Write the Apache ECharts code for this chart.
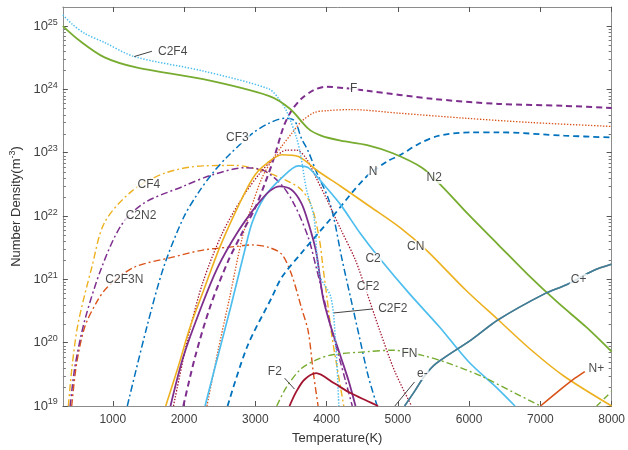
<!DOCTYPE html>
<html><head><meta charset="utf-8">
<script src="https://cdn.jsdelivr.net/npm/echarts@6/dist/echarts.min.js"></script>
<style>html,body{margin:0;padding:0;background:#fff}#c{width:628px;height:450px}</style>
</head><body><div id="c"></div>
<script>
// ---- tick labels ----
const xTicks = [1000,2000,3000,4000,5000,6000,7000,8000];
const yTicks = [1e19,1e20,1e21,1e22,1e23,1e24,1e25];

// ---- series values [Temperature K, number density m^-3] ----
const C2F4 = [[300,1.5e25],[431,1.07e25],[610,7.6e24],[885,5.5e24],[1300,3.3e24],[2268,1.95e24],[3188,1.02e24],[3330,7.1e23],[3440,4.5e23],[3580,1.7e23],[3645,8.1e22],[3714,2.75e22],[3825,9.3e21],[3897,1.2e21],[4061,5.2e20],[4130,8.7e19],[4172,1e19]];
const N2 = [[300,1.0e25],[541,5.8e24],[885,3.2e24],[1343,2.2e24],[2268,1.45e24],[3188,7.9e23],[3490,4.9e23],[3743,2.4e23],[3922,1.86e23],[4198,1.55e23],[4570,1.32e23],[4930,9.8e22],[5344,5.75e22],[5620,2.95e22],[5993,1.05e22],[6407,3.55e21],[6821,1.2e21],[7235,4.4e20],[7649,1.74e20],[8000,7.2e19]];
const F = [[1990,1e19],[2156,6.0e19],[2363,3.6e20],[2611,1.86e21],[2818,5.5e21],[2998,1.35e22],[3136,3.3e22],[3260,8.1e22],[3398,2.6e23],[3508,4.6e23],[3646,7.1e23],[3826,9.8e23],[3991,1.1e24],[4240,1.05e24],[4570,9.5e23],[5482,7.1e23],[6407,5.9e23],[7333,5.5e23],[8000,5.1e23]];
const C = [[2322,1e19],[2474,7.2e19],[2640,5.2e20],[2818,4.6e21],[2956,1.5e22],[3094,4.0e22],[3232,7.6e22],[3370,1.26e23],[3508,2.0e23],[3646,3.1e23],[3826,4.3e23],[3991,4.6e23],[4336,4.8e23],[5027,4.2e23],[5952,3.5e23],[6863,3.0e23],[8000,2.6e23]];
const N = [[2611,1e19],[2887,8.7e19],[3232,5.2e20],[3370,1.07e21],[3646,2.6e21],[4060,9.1e21],[4541,4.0e22],[4860,7.4e22],[5027,9.1e22],[5303,1.4e23],[5579,1.86e23],[6035,2.1e23],[6407,2.1e23],[7333,1.86e23],[8000,1.74e23]];
const CF3 = [[1204,1e19],[1480,1.8e20],[1714,1.55e21],[1990,9.3e21],[2197,2.3e22],[2404,4.8e22],[2611,8.7e22],[2956,2.0e23],[3188,2.9e23],[3412,3.5e23],[3550,3.2e23],[3646,1.7e23],[3743,1.05e23],[3854,5.1e22],[4020,1.95e22],[4102,9.3e21],[4212,2.2e21],[4336,5.2e20],[4474,1.05e20],[4585,2.95e19],[4710,1e19]];
const CF4 = [[377,1e19],[430,4.3e19],[513,2.0e20],[706,1.55e21],[885,7.9e21],[1272,2.5e22],[1741,4.8e22],[2266,6.2e22],[2722,6.3e22],[3094,5.2e22],[3467,3.5e22],[3646,2.6e22],[3784,1.5e22],[3895,4.6e21],[3950,1.55e21],[4005,5.2e20],[4075,1.26e20],[4158,3.5e19],[4241,1e19]];
const C2N2 = [[402,1e19],[471,4.3e19],[609,2.3e20],[845,1.55e21],[1121,7.2e21],[1438,1.6e22],[1990,2.95e22],[2404,4.5e22],[2860,5.8e22],[3122,5.2e22],[3370,3.1e22],[3550,1.5e22],[3743,4.6e21],[3854,1.55e21],[3922,7.6e20],[4059,1.8e20],[4266,2.5e19],[4361,1e19]];
const C2F3N = [[424,1e19],[493,4.7e19],[609,1.8e20],[776,4.4e20],[928,7.6e20],[1299,1.55e21],[1810,2.2e21],[2266,2.9e21],[2722,3.3e21],[2956,3.5e21],[3188,3.2e21],[3370,2.5e21],[3508,1.2e21],[3646,3.6e20],[3743,1.5e20],[3812,3.5e19],[3881,1e19]];
const CN = [[1743,1e19],[1922,4.3e19],[2087,1.8e20],[2266,6.3e20],[2501,3.2e21],[2818,1.95e22],[2998,4.5e22],[3163,6.8e22],[3370,9.3e22],[3605,8.7e22],[3881,5.1e22],[4198,2.95e22],[4613,1.4e22],[5027,6.6e21],[5400,2.9e21],[5952,6.8e20],[6407,2.3e20],[6863,7.8e19],[7333,2.95e19],[8000,1e19]];
const C2 = [[2295,1e19],[2473,6.0e19],[2653,3.6e20],[2846,2.7e21],[2956,7.9e21],[3122,1.95e22],[3370,4.0e22],[3605,6.2e22],[3743,5.8e22],[3964,3.1e22],[4198,1.5e22],[4474,5.3e21],[4751,2.1e21],[5165,5.9e20],[5579,1.8e20],[5993,5.0e19],[6407,1.85e19],[6643,1e19]];
const CF2 = [[1852,1e19],[2060,1.26e20],[2266,9.1e20],[2542,5.5e21],[2818,1.95e22],[3067,4.8e22],[3260,8.1e22],[3440,1.1e23],[3578,1.1e23],[3715,8.1e22],[3854,4.0e22],[3991,1.95e22],[4198,6.2e21],[4406,2.0e21],[4571,5.9e20],[4751,1.5e20],[4958,3.5e19],[5193,1e19]];
const C2F2 = [[1810,1e19],[1990,6.0e19],[2239,3.6e20],[2473,1.55e21],[2749,5.5e21],[3025,1.5e22],[3205,2.5e22],[3343,2.95e22],[3508,2.6e22],[3646,1.6e22],[3743,7.9e21],[3854,2.7e21],[3949,5.2e20],[4059,1.8e20],[4198,6.0e19],[4309,2.5e19],[4406,1e19]];
const F2 = [[3480,1e19],[3577,1.7e19],[3688,2.6e19],[3854,3.3e19],[4102,2.3e19],[4336,1.6e19],[4571,1.2e19],[4723,1e19]];
const FN = [[3301,1e19],[3439,2.0e19],[3646,3.9e19],[3881,5.5e19],[4102,6.5e19],[4571,7.2e19],[4930,7.6e19],[5344,6.3e19],[5717,4.7e19],[6173,2.95e19],[6643,1.6e19],[7002,1e19]];
const Cplus = [[5095,1e19],[5234,1.7e19],[5372,2.95e19],[5538,4.7e19],[6035,1.12e20],[6407,2.3e20],[7056,5.9e20],[7374,8.3e20],[7746,1.38e21],[8000,1.74e21]];
const eminus = [[5095,1e19],[5234,1.7e19],[5372,2.95e19],[5538,4.7e19],[6035,1.12e20],[6407,2.3e20],[7056,5.9e20],[7374,8.3e20],[7746,1.38e21],[8000,1.74e21]];
const Nplus = [[7002,1e19],[7237,1.66e19],[7485,2.75e19],[7623,3.5e19]];
const Fplus = [[7790,1e19],[8000,1.7e19]];

// ---- inline labels [text, T, N] and leader lines ----
const labels = [["C2F4",1841,4.0e24],["F",4380,1.02e24],["CF3",2749,1.74e23],["N",4653,5.1e22],["N2",5510,4.0e22],["CF4",1506,3.1e22],["C2N2",1396,1.0e22],["C2F3N",1163,9.8e20],["CN",5250,3.3e21],["C2",4653,2.1e21],["CF2",4584,7.6e20],["C2F2",4930,3.4e20],["C+",7537,9.8e20],["FN",5162,6.8e19],["e-",5343,3.2e19],["F2",3274,3.5e19],["N+",7785,3.9e19]];
const leaders = [[[1301,3.3e24],[1550,4.0e24]],[[4102,2.95e20],[4640,3.4e20]],[[3412,2.75e19],[3550,1.85e19]],[[5234,2.4e19],[4958,1e19]]];

const blue='#0072BD', orange='#D95319', yellow='#EDB120', purple='#7E2F8E', green='#77AC30', cyan='#4DBEEE', maroon='#A2142F';
const DOT=[1.4,1.6], DASH=[6,4], DASHDOT=[7,3,2,3];

function line(name, data, color, type, width, z){
  return {type:'line', name, data, symbol:'none', showSymbol:false, smooth:0.3, clip:true,
    lineStyle:{color, width:width||1.5, type:type||'solid'}, z:z||2, silent:true, animation:false};
}

const series = [
  line('C2F3N', C2F3N, orange, DASHDOT, 1.4),
  line('CF4', CF4, yellow, DASHDOT, 1.4),
  line('C2N2', C2N2, purple, DASHDOT, 1.5),
  line('CF3', CF3, blue, DASHDOT, 1.5),
  line('C', C, orange, DOT, 1.3),
  line('CF2', CF2, maroon, DOT, 1.3),
  line('F', F, purple, DASH, 2),
  line('N', N, blue, DASH, 1.8),
  line('CN', CN, yellow, 'solid', 1.6),
  line('C2', C2, cyan, 'solid', 1.7),
  line('C2F2', C2F2, purple, 'solid', 1.8),
  line('C2F4', C2F4, cyan, DOT, 1.5),
  line('N2', N2, green, 'solid', 1.8),
  line('F2', F2, maroon, 'solid', 1.8),
  line('FN', FN, green, DASHDOT, 1.4),
  line('e-', eminus, '#6f7f86', 'solid', 1.6),
  line('C+', Cplus, '#3f7f99', 'solid', 1.5),
  line('N+', Nplus, orange, 'solid', 1.6),
  line('F+', Fplus, green, DASH, 1.4),
  {type:'scatter', name:'labels', z:10, silent:true, animation:false,
    symbol:'circle', symbolSize:1, itemStyle:{color:'rgba(0,0,0,0)'},
    data: labels.map(l => ({name:l[0], value:[l[1], l[2]]})),
    label:{show:true, position:'inside', formatter:'{b}', color:'#1a1a1a', fontSize:12,
      fontFamily:'Liberation Sans, Arial, sans-serif', backgroundColor:'#fff', padding:[0,1]},
    markLine:{silent:true, symbol:'none', animation:false, label:{show:false},
      lineStyle:{color:'#444', width:1, type:'solid'},
      data: leaders.map(p => [{coord:p[0]},{coord:p[1]}])}
  }
];

const axisColor = '#8c8c8c';
const font = 'Liberation Sans, Arial, sans-serif';
const chart = echarts.init(document.getElementById('c'), null, {renderer:'canvas'});
chart.setOption({
  animation:false,
  backgroundColor:'#fff',
  grid:{left:57, right:13, top:7, bottom:40, containLabel:false},
  xAxis:[{
    type:'value', min:300, max:8000, position:'bottom',
    name:'Temperature(K)', nameLocation:'middle', nameGap:26,
    nameTextStyle:{fontSize:13, color:'#333', fontFamily:font},
    axisLine:{show:true, lineStyle:{color:axisColor, width:1}},
    axisTick:{show:true, inside:true, length:5, customValues:xTicks, lineStyle:{color:'#555'}},
    axisLabel:{customValues:xTicks, margin:8, fontSize:12, color:'#404040', fontFamily:font,
      formatter:v => String(v)},
    splitLine:{show:false}
  },{
    type:'value', min:300, max:8000, position:'top',
    axisLine:{show:true, lineStyle:{color:axisColor, width:1}},
    axisTick:{show:true, inside:true, length:5, customValues:xTicks, lineStyle:{color:'#555'}},
    axisLabel:{show:false}, splitLine:{show:false}
  }],
  yAxis:[{
    type:'log', logBase:10, min:1e19, max:2e25, position:'left',
    name:'Number Density(m{s|-3})', nameLocation:'middle', nameGap:36, nameRotate:90,
    nameTextStyle:{fontSize:13, color:'#333', fontFamily:font,
      rich:{s:{fontSize:9, color:'#333', fontFamily:font, padding:[0,0,7,0]}}},
    axisLine:{show:true, lineStyle:{color:axisColor, width:1}},
    axisTick:{show:true, inside:true, length:5, customValues:yTicks, lineStyle:{color:'#555'}},
    axisLabel:{customValues:yTicks, margin:5, color:'#404040',
      formatter:v => '{b|10}{s|' + Math.round(Math.log10(v)) + '}',
      rich:{b:{fontSize:13, color:'#404040', fontFamily:font},
            s:{fontSize:9, color:'#404040', fontFamily:font, padding:[0,0,8,0]}}},
    splitLine:{show:false}
  },{
    type:'log', logBase:10, min:1e19, max:2e25, position:'right',
    axisLine:{show:true, lineStyle:{color:axisColor, width:1}},
    axisTick:{show:true, inside:true, length:5, customValues:yTicks, lineStyle:{color:'#555'}},
    axisLabel:{show:false}, splitLine:{show:false}
  }],
  series
});

// minor log ticks on left and right frame
const g = [];
const xl = chart.convertToPixel({xAxisIndex:0}, 300);
const xr = chart.convertToPixel({xAxisIndex:0}, 8000);
for (let d = 19; d <= 25; d++) {
  for (let k = 2; k <= 9; k++) {
    const v = k * Math.pow(10, d);
    if (v > 2e25) continue;
    const y = Math.round(chart.convertToPixel({yAxisIndex:0}, v)) + 0.5;
    g.push({type:'line', shape:{x1:xl, y1:y, x2:xl+3, y2:y}, style:{stroke:'#777', lineWidth:1}, silent:true});
    g.push({type:'line', shape:{x1:xr, y1:y, x2:xr-3, y2:y}, style:{stroke:'#777', lineWidth:1}, silent:true});
  }
}
chart.setOption({graphic:g});
</script>
</body></html>
